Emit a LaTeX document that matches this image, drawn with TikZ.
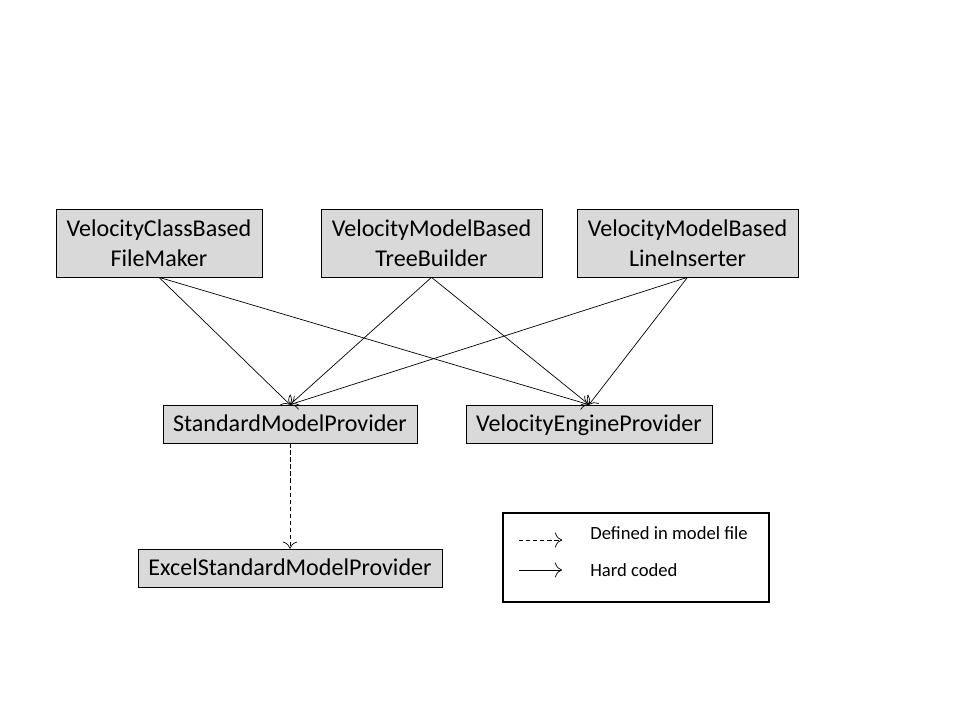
\documentclass[tikz,border=0pt]{standalone}
\usepackage{fontspec}
\setmainfont{Carlito}
\usepackage{tikz}
\usetikzlibrary{arrows.meta}

\definecolor{grisclaro}{RGB}{217,217,217}

\begin{document}
\begin{tikzpicture}[
% Estilo de las cajas
caja/.style={rectangle, draw=black, fill=grisclaro, inner sep=0pt, align=center, font=\fontsize{13.7}{17}\selectfont},
% Cajas de una sola linea
cajauna/.style={caja, text height=8.8pt, text depth=0pt, minimum height=0.76cm},
% Estilo de las flechas
flecha/.style={-{To[scale=1.6]}, color=black, thin},
% Estilo de la leyenda
leyenda/.style={font=\fontsize{10.6}{13}\selectfont, anchor=west, inner sep=0pt},
]
\useasboundingbox (0,0) rectangle (19.2,14.4);
% Nodos
\node (filemaker) at (3.18,9.54) [caja, minimum width=4.12cm, minimum height=1.36cm]{VelocityClassBased\\FileMaker};
\node (treebuilder) at (8.63,9.54) [caja, minimum width=4.42cm, minimum height=1.36cm]{VelocityModelBased\\TreeBuilder};
\node (lineinserter) at (13.75,9.54) [caja, minimum width=4.42cm, minimum height=1.36cm]{VelocityModelBased\\LineInserter};
\node (standard) at (5.8,5.92) [cajauna, minimum width=5.08cm]{StandardModelProvider};
\node (engine) at (11.78,5.92) [cajauna, minimum width=4.92cm]{VelocityEngineProvider};
\node (excel) at (5.8,3.04) [cajauna, minimum width=6.08cm]{ExcelStandardModelProvider};

% Flechas
\draw[flecha] (filemaker.south) -- (standard.north);
\draw[flecha] (filemaker.south) -- (engine.north);
\draw[flecha] (treebuilder.south) -- (standard.north);
\draw[flecha] (treebuilder.south) -- (engine.north);
\draw[flecha] (lineinserter.south) -- (standard.north);
\draw[flecha] (lineinserter.south) -- (engine.north);
\draw[flecha, dash pattern=on 2.5pt off 1.5pt] (standard.south) -- (excel.north);

% Leyenda
\node (marco) at (12.72,3.25) [rectangle, draw=black, line width=1.5pt, minimum width=5.32cm, minimum height=1.78cm]{};
\coordinate (d1) at (10.38,3.6);
\coordinate (d2) at (11.24,3.6);
\coordinate (h1) at (10.38,3.0);
\coordinate (h2) at (11.24,3.0);
\draw[flecha, dash pattern=on 2.5pt off 1.5pt] (d1) -- (d2);
\draw[flecha] (h1) -- (h2);
\node (definido) at (11.8,3.74) [leyenda]{Defined in model file};
\node (codificado) at (11.8,3.0) [leyenda]{Hard coded};
\end{tikzpicture}
\end{document}
